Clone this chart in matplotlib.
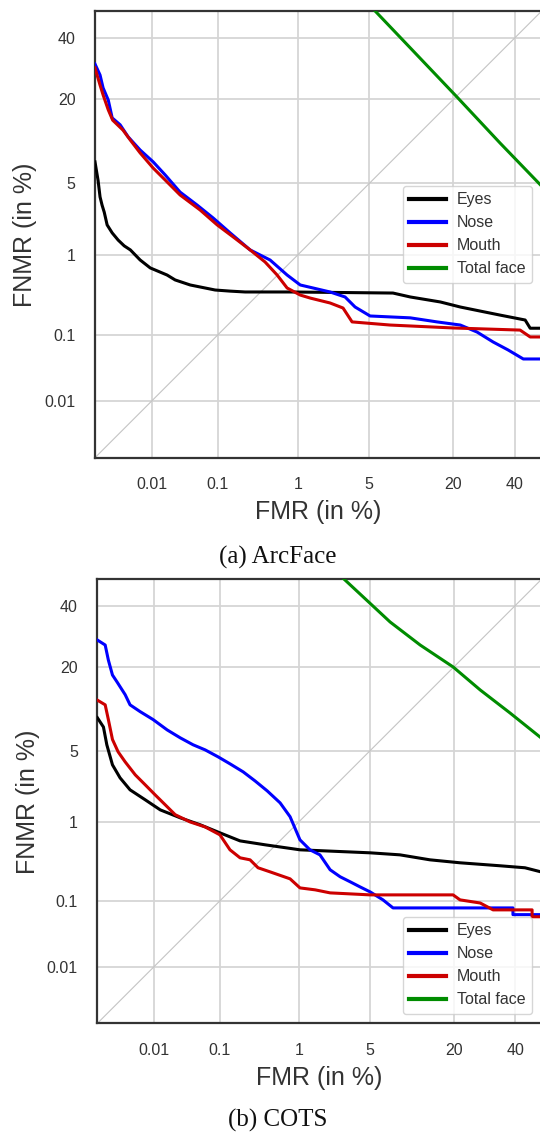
import math
import numpy as np
import matplotlib
matplotlib.use("Agg")
import matplotlib.pyplot as plt

# DET curves (FMR / FNMR in %)
arc_eyes_fmr = [0.001, 0.00114, 0.00124, 0.00135, 0.00148, 0.00167, 0.00206, 0.00263, 0.00336, 0.0043,
                0.0063, 0.0093, 0.0174, 0.0233, 0.0396, 0.0913, 0.147, 0.232, 0.818, 7.8, 10.5, 16.7,
                21.9, 27.9, 34.6, 43.8, 45.7, 50]
arc_eyes_fnmr = [7.5, 5.3, 3.8, 3.2, 2.74, 2.06, 1.71, 1.44, 1.25, 1.13,
                 0.875, 0.71, 0.587, 0.513, 0.446, 0.387, 0.375, 0.366, 0.366, 0.355, 0.317, 0.274,
                 0.236, 0.209, 0.185, 0.159, 0.123, 0.123]

arc_nose_fmr = [0.001, 0.00124, 0.00141, 0.00175, 0.00206, 0.00285, 0.00394, 0.0063, 0.0104, 0.0162,
                0.0278, 0.0503, 0.0857, 0.147, 0.269, 0.477, 0.755, 1.06, 2.17, 3.03, 3.75, 5.08,
                10.5, 15.9, 21.9, 26.9, 32.2, 37.5, 43.1, 50]
arc_nose_fnmr = [30.7, 27.1, 23.2, 19.8, 15.4, 13.9, 11.5, 9.25, 7.5, 5.9,
                 4.2, 3.2, 2.41, 1.71, 1.13, 0.873, 0.587, 0.446, 0.366, 0.317, 0.236, 0.180,
                 0.170, 0.150, 0.136, 0.109, 0.079, 0.0606, 0.0447, 0.0447]

arc_mouth_fmr = [0.001, 0.00124, 0.00141, 0.00175, 0.0021, 0.0032, 0.0043, 0.0063, 0.0104, 0.0162,
                 0.0278, 0.0555, 0.0975, 0.162, 0.269, 0.414, 0.578, 0.755, 1.06, 1.36, 2.17, 2.9,
                 3.52, 7.4, 20, 41.9, 45.7, 50]
arc_mouth_fnmr = [29.4, 24.0, 21.2, 17.3, 14.9, 12.8, 10.9, 8.8, 6.7, 5.35,
                  3.96, 2.88, 2.06, 1.55, 1.13, 0.83, 0.587, 0.41, 0.335, 0.307, 0.266, 0.229,
                  0.150, 0.136, 0.124, 0.116, 0.093, 0.093]

arc_total_fmr = [5.1, 10.5, 21.0, 34.6, 50]
arc_total_fnmr = [52, 36.3, 20.6, 10.4, 4.75]

cots_eyes_fmr = [0.001, 0.0013, 0.0015, 0.0019, 0.0026, 0.0039, 0.0071, 0.0126, 0.0261, 0.0525,
                 0.101, 0.19, 0.398, 1.02, 5.0, 8.7, 14.2, 21.7, 34.5, 43.7, 49.8]
cots_eyes_fnmr = [9.2, 7.8, 5.6, 3.74, 2.83, 2.16, 1.71, 1.34, 1.10, 0.92,
                  0.745, 0.60, 0.539, 0.469, 0.431, 0.407, 0.353, 0.324, 0.297, 0.280, 0.248]

cots_nose_fmr = [0.001, 0.0014, 0.0016, 0.0019, 0.0023, 0.0032, 0.0039, 0.0058, 0.0096, 0.0163,
                 0.0261, 0.0411, 0.062, 0.095, 0.139, 0.209, 0.298, 0.422, 0.604, 0.789, 1.02,
                 1.31, 1.67, 2.12, 2.66, 3.3, 4.07, 5.0, 6.4, 7.7, 39.2, 39.2, 50]
cots_nose_fnmr = [28.0, 26.4, 21.9, 17.9, 16.2, 13.4, 11.4, 10.2, 8.9, 7.4,
                  6.4, 5.6, 5.07, 4.41, 3.82, 3.22, 2.64, 2.11, 1.59, 1.13, 0.617,
                  0.469, 0.407, 0.264, 0.214, 0.184, 0.157, 0.134, 0.104, 0.080, 0.080, 0.064, 0.064]

cots_mouth_fmr = [0.001, 0.0014, 0.0016, 0.0019, 0.0024, 0.0032, 0.0048, 0.0071, 0.0104, 0.0151,
                  0.0218, 0.037, 0.062, 0.101, 0.139, 0.19, 0.257, 0.325, 0.458, 0.789, 1.02,
                  1.49, 2.12, 5.0, 19.8, 21.7, 27.8, 32.1, 46.4, 46.4, 50]
cots_mouth_fnmr = [12.3, 11.4, 8.9, 6.2, 4.88, 3.98, 3.02, 2.42, 1.92, 1.52,
                   1.19, 0.99, 0.87, 0.706, 0.469, 0.374, 0.353, 0.28, 0.248, 0.201, 0.152,
                   0.143, 0.130, 0.122, 0.122, 0.104, 0.094, 0.075, 0.075, 0.0596, 0.0596]

cots_total_fmr = [2.54, 4.34, 7.3, 12.2, 19.8, 27.8, 38.1, 49.8]
cots_total_fnmr = [52.2, 43.3, 34.1, 26.4, 20.0, 14.4, 9.97, 6.4]

labels = ["Eyes", "Nose", "Mouth", "Total face"]
colors = ["#000000", "#0000ff", "#cc0000", "#008c00"]
ticks = [0.01, 0.1, 1, 5, 20, 40]
tick_labels = ["0.01", "0.1", "1", "5", "20", "40"]
lims = [0.001, 50]


# probit scale (normal deviate), Acklam's approximation for the inverse cdf
A = [-3.969683028665376e+01, 2.209460984245205e+02, -2.759285104469687e+02,
     1.383577518672690e+02, -3.066479806614716e+01, 2.506628277459239e+00]
B = [-5.447609879822406e+01, 1.615858368580409e+02, -1.556989798598866e+02,
     6.680131188771972e+01, -1.328068155288572e+01]
C = [-7.784894002430293e-03, -3.223964580411365e-01, -2.400758277161838e+00,
     -2.549732539343734e+00, 4.374664141464968e+00, 2.938163982698783e+00]
D = [7.784695709041462e-03, 3.224671290700398e-01, 2.445134137142996e+00,
     3.754408661907416e+00]


def ppf(p):
    p = np.clip(np.asarray(p, dtype=float), 1e-12, 1 - 1e-12)
    with np.errstate(all="ignore"):
        q = np.sqrt(-2 * np.log(p))
        lo = (((((C[0]*q + C[1])*q + C[2])*q + C[3])*q + C[4])*q + C[5]) / \
             ((((D[0]*q + D[1])*q + D[2])*q + D[3])*q + 1)
        qh = np.sqrt(-2 * np.log(1 - p))
        hi = -(((((C[0]*qh + C[1])*qh + C[2])*qh + C[3])*qh + C[4])*qh + C[5]) / \
             ((((D[0]*qh + D[1])*qh + D[2])*qh + D[3])*qh + 1)
        qc = p - 0.5
        r = qc * qc
        mid = (((((A[0]*r + A[1])*r + A[2])*r + A[3])*r + A[4])*r + A[5])*qc / \
              (((((B[0]*r + B[1])*r + B[2])*r + B[3])*r + B[4])*r + 1)
    return np.where(p < 0.02425, lo, np.where(p > 1 - 0.02425, hi, mid))


_erf = np.vectorize(math.erf)


def fwd(x):
    return ppf(np.asarray(x, dtype=float) / 100.0)


def inv(z):
    z = np.asarray(z, dtype=float)
    return 100.0 * 0.5 * (1 + _erf(z / math.sqrt(2)))


plt.rcParams["font.family"] = ["Liberation Sans", "DejaVu Sans"]
text_col = "#333333"

fig = plt.figure(figsize=(5.4, 11.32), dpi=100)


def det_panel(rect, curves, legend_loc):
    ax = fig.add_axes(rect)
    ax.set_xscale("function", functions=(fwd, inv))
    ax.set_yscale("function", functions=(fwd, inv))
    ax.set_xlim(lims)
    ax.set_ylim(lims)
    ax.grid(True, color="#d5d5d5", linewidth=1.3, zorder=0)
    ax.set_axisbelow(True)
    ax.plot(lims, lims, color="#c4c4c4", linewidth=0.8, zorder=1)
    for (fmr, fnmr), lab, col in zip(curves, labels, colors):
        ax.plot(fmr, fnmr, color=col, linewidth=2.2, label=lab, zorder=3)
    ax.set_xticks(ticks)
    ax.set_xticklabels(tick_labels)
    ax.set_yticks(ticks)
    ax.set_yticklabels(tick_labels)
    ax.minorticks_off()
    ax.tick_params(length=0, pad=14, labelsize=11.5, colors=text_col)
    for s in ax.spines.values():
        s.set_color("#333333")
        s.set_linewidth(1.6)
    ax.set_xlabel("FMR (in %)", fontsize=18, color=text_col, labelpad=6)
    ax.set_ylabel("FNMR (in %)", fontsize=18, color=text_col, labelpad=5)
    leg = ax.legend(loc=legend_loc, fontsize=11.5, frameon=True, framealpha=0.8,
                    edgecolor="#cccccc", handlelength=2.3, handletextpad=0.7,
                    borderaxespad=0.6, borderpad=0.4, labelspacing=0.5)
    for t in leg.get_texts():
        t.set_color(text_col)
    for h in leg.get_lines():
        h.set_linewidth(3)
    return ax


det_panel([95 / 540, (1132 - 457.7) / 1132, 446.5 / 540, 446.5 / 1132],
          [(arc_eyes_fmr, arc_eyes_fnmr), (arc_nose_fmr, arc_nose_fnmr),
           (arc_mouth_fmr, arc_mouth_fnmr), (arc_total_fmr, arc_total_fnmr)],
          "center right")
det_panel([97.3 / 540, (1132 - 1023.4) / 1132, 444.2 / 540, 444.1 / 1132],
          [(cots_eyes_fmr, cots_eyes_fnmr), (cots_nose_fmr, cots_nose_fnmr),
           (cots_mouth_fmr, cots_mouth_fnmr), (cots_total_fmr, cots_total_fnmr)],
          "lower right")

fig.text(278 / 540, 1 - 564 / 1132, "(a) ArcFace", ha="center", va="baseline",
         fontsize=18, family="Liberation Serif", color="#111111")
fig.text(278 / 540, 1 - 1127 / 1132, "(b) COTS", ha="center", va="baseline",
         fontsize=18, family="Liberation Serif", color="#111111")

fig.savefig("out.png", dpi=100)
